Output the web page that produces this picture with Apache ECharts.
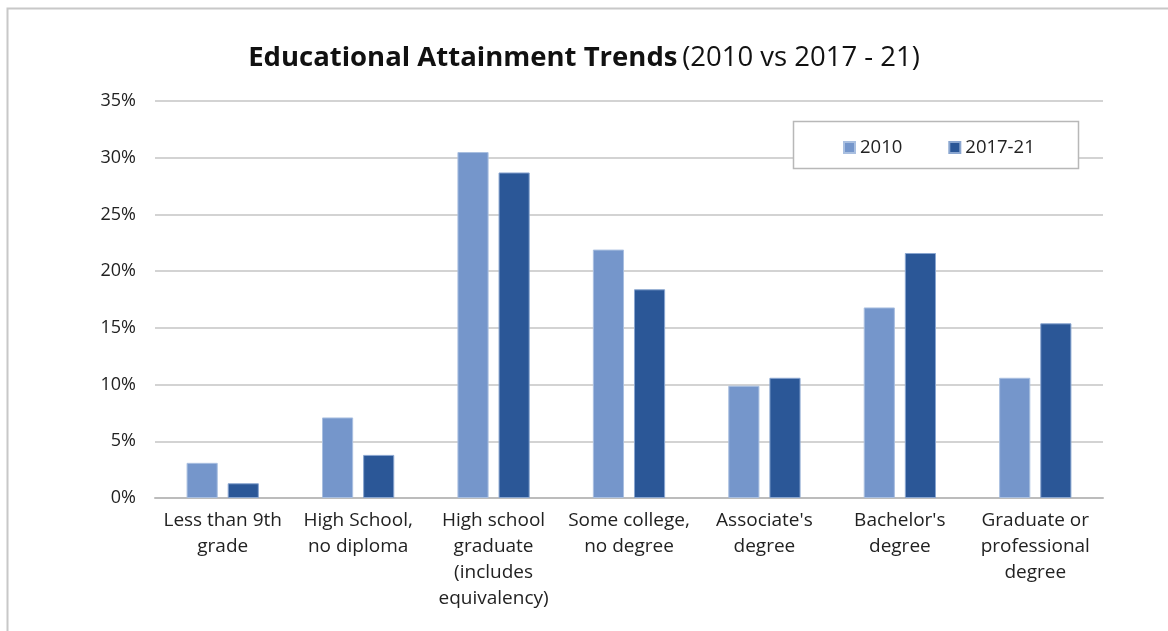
<!DOCTYPE html>
<html><head><meta charset="utf-8">
<script src="https://cdn.jsdelivr.net/npm/echarts@6/dist/echarts.min.js"></script>
<style>html,body{margin:0;padding:0;background:#fff}#c{width:1168px;height:631px}</style>
</head><body><div id="c"></div>
<script>
const categories = ["Less than 9th\ngrade", "High School,\nno diploma", "High school\ngraduate\n(includes\nequivalency)", "Some college,\nno degree", "Associate's\ndegree", "Bachelor's\ndegree", "Graduate or\nprofessional\ndegree"];
const series2010 = [3.1, 7.1, 30.5, 21.9, 9.9, 16.8, 10.6];
const series2017 = [1.3, 3.8, 28.7, 18.4, 10.6, 21.6, 15.4];
const seriesNames = ["2010", "2017-21"];

const FONT = "Open Sans";
const chart = echarts.init(document.getElementById('c'));
chart.setOption({
  animation: false,
  textStyle: { fontFamily: FONT },
  graphic: [
    { type: 'rect', shape: { x: 7.5, y: 8.5, width: 1200, height: 700 }, style: { fill: 'none', stroke: '#c8c8c8', lineWidth: 2 }, z: -1 },
    { type: 'rect', shape: { x: 793.5, y: 121.5, width: 285, height: 47 }, style: { fill: '#fff', stroke: '#b8b8b8', lineWidth: 1.5 }, z: 5 }
  ],
  title: {
    text: '{b|Educational Attainment Trends} {n|(2010 vs 2017 - 21)}',
    left: 'center', top: 39,
    textStyle: {
      rich: {
        b: { fontFamily: FONT, fontWeight: 'bold', fontSize: 27.5, color: '#111' },
        n: { fontFamily: FONT, fontWeight: 'normal', fontSize: 27.5, color: '#111' }
      }
    }
  },
  legend: {
    data: seriesNames, left: 838, top: 133, itemWidth: 11, itemHeight: 11, itemGap: 46,
    icon: 'rect', z: 10,
    textStyle: { fontFamily: FONT, fontSize: 18.5, color: '#222' }
  },
  grid: { left: 155, right: 65, top: 101, bottom: 133, containLabel: false },
  xAxis: {
    type: 'category', data: categories,
    axisLine: { lineStyle: { color: '#bcbcbc', width: 2 } },
    axisTick: { show: false },
    axisLabel: { fontFamily: FONT, fontSize: 19, color: '#222', lineHeight: 26, margin: 10, interval: 0 }
  },
  yAxis: {
    type: 'value', min: 0, max: 35, interval: 5,
    axisLine: { show: false }, axisTick: { show: false },
    splitLine: { lineStyle: { color: '#c4c4c4', width: 1.5 } },
    axisLabel: { fontFamily: FONT, fontSize: 18, color: '#222', margin: 19, formatter: v => v + '%' }
  },
  series: [
    { name: seriesNames[0], type: 'bar', data: series2010, barWidth: '23%', barGap: '32%',
      itemStyle: { color: '#7596cb', borderColor: '#a9bfe0', borderWidth: 1 } },
    { name: seriesNames[1], type: 'bar', data: series2017, barWidth: '23%',
      itemStyle: { color: '#2b5797', borderColor: '#8aa6d0', borderWidth: 1 } }
  ]
});
</script></body></html>
